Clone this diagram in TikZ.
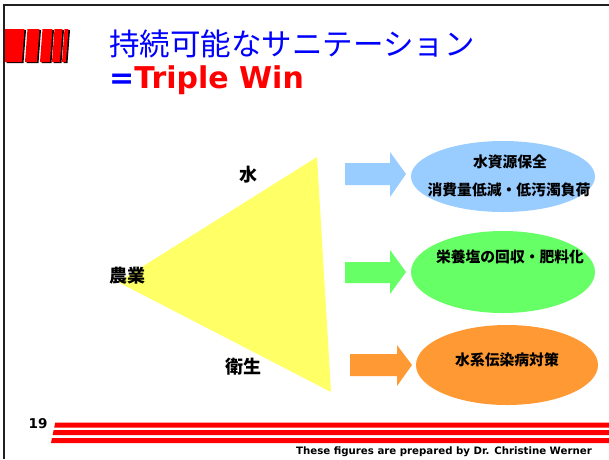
\documentclass[tikz,border=0pt]{standalone}
\usepackage{fontspec}
\setmainfont{DejaVu Sans}
\newfontfamily\jp{Noto Sans CJK JP}
\usetikzlibrary{shapes.geometric}
\definecolor{tblue}{HTML}{0000FF}
\definecolor{tred}{HTML}{FF0000}
\definecolor{triyel}{HTML}{FFFF66}
\definecolor{eblue}{HTML}{99CCFF}
\definecolor{egreen}{HTML}{66FF66}
\definecolor{eorange}{HTML}{FF9933}
\definecolor{framec}{HTML}{202020}
\tikzset{
  framestyle/.style={draw=framec, line width=2pt},
  stripe/.style={fill=tred},
  shadow/.style={fill=black},
  corner/.style={font=\jp\bfseries\fontsize{18}{18}\selectfont, inner sep=0pt},
  etext/.style={font=\jp\bfseries\fontsize{14.8}{14.8}\selectfont, inner sep=0pt},
  goal/.style={ellipse, draw=none, inner sep=0pt},
}
\begin{document}
\begin{tikzpicture}[x=1pt, y=-1pt]
\useasboundingbox (0,0) rectangle (609,459);
\fill[white] (0,0) rectangle (609,459);
% frame
\draw[framestyle] (4,459) -- (4,5) -- (609,5);
% top-left bars
\foreach \a/\b in {5/22, 25/37, 40/50, 52/60, 62/66}{
  \fill[shadow] (\a+1.5,63) -- (\b+1.5,63) -- (\b+4,30) -- (\a+4,30) -- cycle;
  \fill[stripe] (\a,62) -- (\b,62) -- (\b+2.5,29) -- (\a+2.5,29) -- cycle;
}
\fill[stripe] (5,29) rectangle (8,62);
% title
\node[anchor=base west, inner sep=0pt, text=tblue, font=\jp\fontsize{30.5}{30.5}\selectfont] (title) at (109,55) {持続可能なサニテーション};
\node[anchor=base west, inner sep=0pt, font=\bfseries\fontsize{30}{30}\selectfont] (win) at (109,88.5) {\textcolor{tblue}{=}\textcolor{tred}{Triple Win}};
% triangle
\coordinate (tl) at (118,282);
\coordinate (tt) at (317,157);
\coordinate (tb) at (331,392);
\fill[triyel] (tl) -- (tt) -- (tb) -- cycle;
\node[corner] (water) at (248,175) {水};
\node[corner] (agri) at (127,276) {農業};
\node[corner] (sani) at (243,367) {衛生};
% arrows
\fill[eblue] (345,163) -- (390,163) -- (390,152) -- (406,174) -- (390,197) -- (390,185) -- (345,185) -- cycle;
\fill[egreen] (345,262) -- (390,262) -- (390,250) -- (406,272) -- (390,294) -- (390,283) -- (345,283) -- cycle;
\fill[eorange] (350,354) -- (397,354) -- (397,345) -- (412,365) -- (397,386) -- (397,376) -- (350,376) -- cycle;
% ellipses
\node[goal, fill=eblue, minimum width=184pt, minimum height=71pt] (e1) at (503,176.5) {};
\node[goal, fill=egreen, minimum width=184pt, minimum height=82pt] (e2) at (503,272) {};
\node[goal, fill=eorange, minimum width=182pt, minimum height=80pt] (e3) at (507,365) {};
\node[etext] (e1a) at (510,162) {水資源保全};
\node[etext] (e1b) at (509,190) {消費量低減・低汚濁負荷};
\node[etext] (e2a) at (510,257) {栄養塩の回収・肥料化};
\node[etext] (e3a) at (507,360) {水系伝染病対策};
% bottom
\node[font=\bfseries\fontsize{13.5}{13.5}\selectfont, inner sep=0pt] (page) at (38,424) {19};
\fill[tred] (55.2,422.5) -- (609,422.5) -- (609,427.5) -- (54.2,427.5) -- cycle;
\fill[tred] (53.6,430) -- (609,430) -- (609,435) -- (52.6,435) -- cycle;
\fill[tred] (52,438) -- (609,438) -- (609,443) -- (51,443) -- cycle;
\node[anchor=east, inner sep=0pt, font=\bfseries\fontsize{10.2}{10.2}\selectfont] (credit) at (592,452) {These figures are prepared by Dr. Christine Werner};
\end{tikzpicture}
\end{document}
